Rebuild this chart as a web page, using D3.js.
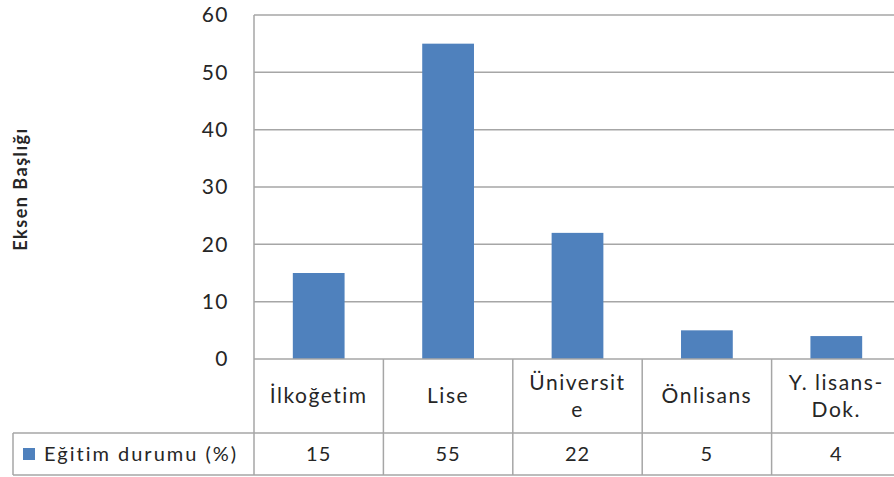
<!DOCTYPE html>
<html>
<head>
<meta charset="utf-8">
<script src="https://cdn.jsdelivr.net/npm/d3@7"></script>
<style>
  html, body { margin: 0; padding: 0; background: #fff; }
  svg { display: block; }
  text { font-family: "Lato", "Open Sans", sans-serif; fill: #262626; }
</style>
</head>
<body>
<svg id="chart" width="894" height="477"></svg>
<script>
// Chart data
const categories = ["İlkoğetim", "Lise", "Üniversite", "Önlisans", "Y. lisans-Dok."];
const categoryLines = [["İlkoğetim"], ["Lise"], ["Üniversit", "e"], ["Önlisans"], ["Y. lisans-", "Dok."]];
const values = [15, 55, 22, 5, 4];
const valueLabels = ["15", "55", "22", "5", "4"];
const seriesName = "Eğitim durumu (%)";
const yTicks = [0, 10, 20, 30, 40, 50, 60];
const axisTitle = "Eksen Başlığı";

const svg = d3.select("#chart");
const W = 894, H = 477;
const plot = { left: 254, right: 901, top: 15, bottom: 359 };
const table = { left: 13, catBottom: 433, bottom: 475 };
const gridColor = "#a6a6a6";
const barColor = "#4f81bd";

const x = d3.scaleBand().domain(categories).range([plot.left, plot.right]).paddingInner(0.6).paddingOuter(0.3);
const xCell = d3.scaleBand().domain(categories).range([plot.left, plot.right]);
const y = d3.scaleLinear().domain([0, 60]).range([plot.bottom, plot.top]);

// Horizontal gridlines
svg.append("g").selectAll("line").data(yTicks.filter(d => d > 0)).join("line")
  .attr("x1", plot.left).attr("x2", W)
  .attr("y1", d => y(d)).attr("y2", d => y(d))
  .attr("stroke", gridColor).attr("stroke-width", 1.5);

// Y axis labels
const yAxis = d3.axisLeft(y).tickValues(yTicks).tickSize(0).tickPadding(0);
const gy = svg.append("g").attr("transform", `translate(${plot.left - 25},0)`).call(yAxis);
gy.select(".domain").remove();
gy.selectAll("text").attr("font-size", 21).attr("letter-spacing", 1.5)
  .attr("font-family", "Lato, sans-serif").attr("fill", "#262626");

// Bars
svg.append("g").selectAll("rect").data(values).join("rect")
  .attr("x", (d, i) => x(categories[i]))
  .attr("width", x.bandwidth())
  .attr("y", d => y(d))
  .attr("height", d => y(0) - y(d))
  .attr("fill", barColor);

// Vertical axis line
svg.append("line").attr("x1", plot.left).attr("x2", plot.left)
  .attr("y1", plot.top).attr("y2", table.bottom)
  .attr("stroke", gridColor).attr("stroke-width", 1.5);

// Data table lines
const tg = svg.append("g").attr("stroke", gridColor).attr("stroke-width", 1.5);
tg.append("line").attr("x1", plot.left).attr("x2", W).attr("y1", plot.bottom).attr("y2", plot.bottom);
tg.append("line").attr("x1", table.left).attr("x2", W).attr("y1", table.catBottom).attr("y2", table.catBottom);
tg.append("line").attr("x1", table.left).attr("x2", W).attr("y1", table.bottom).attr("y2", table.bottom);
tg.append("line").attr("x1", table.left).attr("x2", table.left).attr("y1", table.catBottom).attr("y2", table.bottom);
tg.selectAll("line.sep").data(categories.slice(1)).join("line").attr("class", "sep")
  .attr("x1", d => xCell(d)).attr("x2", d => xCell(d))
  .attr("y1", plot.bottom).attr("y2", table.bottom);

// Category labels
const catMid = (plot.bottom + table.catBottom) / 2;
const lineH = 27;
svg.append("g").selectAll("text").data(categories).join("text")
  .attr("text-anchor", "middle")
  .attr("font-size", 21).attr("letter-spacing", 1.5)
  .each(function(d, i) {
    const lines = categoryLines[i];
    const cx = xCell(d) + xCell.bandwidth() / 2;
    const y0 = catMid - (lines.length - 1) * lineH / 2;
    d3.select(this).selectAll("tspan").data(lines).join("tspan")
      .attr("x", cx).attr("y", (l, k) => y0 + k * lineH).attr("dy", "0.35em").text(l => l);
  });

// Value row
const valMid = (table.catBottom + table.bottom) / 2;
svg.append("g").selectAll("text").data(valueLabels).join("text")
  .attr("text-anchor", "middle").attr("font-size", 20).attr("letter-spacing", 1)
  .attr("x", (d, i) => xCell(categories[i]) + xCell.bandwidth() / 2)
  .attr("y", valMid).attr("dy", "0.35em").text(d => d);

// Legend key in the data table
svg.append("rect").attr("x", 23).attr("y", valMid - 6).attr("width", 12).attr("height", 12).attr("fill", barColor);
svg.append("text").attr("x", 44).attr("y", valMid).attr("dy", "0.35em")
  .attr("font-size", 20).attr("letter-spacing", 2).text(seriesName);

// Axis title
svg.append("text")
  .attr("transform", `translate(27,189) rotate(-90)`)
  .attr("text-anchor", "middle").attr("font-weight", "bold").attr("font-size", 18).attr("letter-spacing", 1.5)
  .text(axisTitle);
</script>
</body>
</html>
